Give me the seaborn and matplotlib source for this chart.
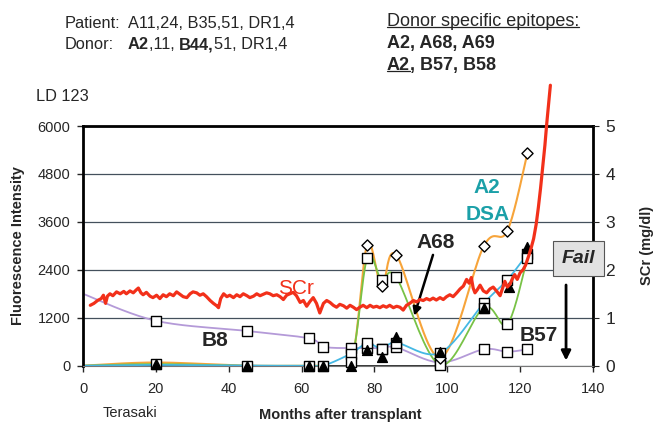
import numpy as np
import matplotlib
matplotlib.use("Agg")
import matplotlib.pyplot as plt
from matplotlib.lines import Line2D
import seaborn as sns

# antibody test months (shared by the bead series)
months = [0, 20, 45, 62, 66, 73.5, 78, 82, 86, 98, 110, 116.5, 122]

b8 = [1800, 1125, 870, 685, 475, 440, 450, 430, 460, 80, 410, 350, 410]
a2 = [0, 20, 0, 0, 0, 300, 560, 420, 575, 320, 1560, 2150, 2800]
a68 = [0, 40, 0, 0, 0, 100, 2685, 2140, 2210, 20, 1450, 1040, 2700]
a69 = [0, 80, 0, 0, 0, 0, 3020, 1990, 2770, 200, 2990, 3380, 5325]

tri_months = [20, 45, 62, 66, 73.5, 78, 82, 86, 98, 110, 117, 122]
tri_vals = [50, 0, 0, 0, 0, 390, 225, 710, 350, 1435, 1975, 2960]

base_months = [0, 20, 45, 62, 66, 73.5, 78, 82, 86, 98]
base_vals = [0, 0, 0, 0, 0, 0, 0, 0, 0, 0]

# serum creatinine (mg/dl)
scr_months = [2, 3, 4, 5, 5.6, 6.2, 6.7, 7.4, 8.2, 9.2, 10.2, 11.2, 11.9, 12.9, 13.8,
              14.6, 15.2, 15.9, 16.5, 17.4, 18.4, 19.2, 20.2, 21.1, 22, 22.9, 23.8,
              24.8, 25.7, 26.6, 27.5, 28.5, 29.4, 30.2, 31.2, 32.1, 33, 33.9, 34.9,
              35.8, 36.7, 37.2, 37.8, 38.6, 39.5, 40.3, 41.3, 42.2, 43.1, 44, 45,
              45.8, 46.8, 47.7, 48.6, 49.5, 50.4, 51.3, 52.2, 53.2, 54.1, 55, 55.9,
              56.8, 57.7, 58.6, 59.6, 60.5, 61.4, 62.3, 63.2, 64.1, 65, 66, 66.9,
              67.8, 68.7, 69.6, 70.5, 71.5, 72.4, 73.3, 74.2, 75.1, 76, 76.9, 77.9,
              78.8, 79.7, 80.6, 81.5, 82.4, 83.3, 84.2, 85.2, 86.1, 87, 87.9, 88.8,
              89.7, 90.7, 91.6, 92.5, 93.4, 94.3, 95.2, 96.1, 97, 98, 98.9, 99.8,
              100.7, 101.6, 102.6, 103.5, 104.4, 105.3, 106, 106.6, 107.1, 107.6,
              108.2, 109, 109.9, 110.8, 111.7, 112.6, 113.5, 114.5, 115.2, 115.8,
              116.5, 117.2, 117.9, 118.5, 119.2, 120, 120.8, 121.5, 122.3, 123,
              123.7, 124.4, 125, 125.6, 126.2, 126.8, 127.3, 127.8, 128.3]
scr_vals = [1.26, 1.30, 1.36, 1.40, 1.47, 1.30, 1.45, 1.50, 1.46, 1.54, 1.50, 1.55, 1.50,
            1.56, 1.52, 1.58, 1.62, 1.52, 1.48, 1.53, 1.45, 1.42, 1.47, 1.40, 1.48,
            1.44, 1.50, 1.46, 1.54, 1.49, 1.44, 1.42, 1.50, 1.54, 1.52, 1.47, 1.50,
            1.44, 1.36, 1.30, 1.25, 1.21, 1.40, 1.50, 1.44, 1.47, 1.42, 1.48, 1.44,
            1.50, 1.46, 1.42, 1.45, 1.50, 1.46, 1.49, 1.52, 1.50, 1.46, 1.48, 1.44,
            1.38, 1.47, 1.50, 1.53, 1.46, 1.32, 1.36, 1.24, 1.34, 1.42, 1.30, 1.10,
            1.30, 1.36, 1.32, 1.26, 1.22, 1.28, 1.25, 1.20, 1.26, 1.22, 1.17, 1.22,
            1.26, 1.21, 1.26, 1.22, 1.24, 1.21, 1.25, 1.22, 1.26, 1.21, 1.24, 1.22,
            1.16, 1.26, 1.30, 1.36, 1.33, 1.38, 1.36, 1.40, 1.37, 1.41, 1.37, 1.42,
            1.38, 1.44, 1.48, 1.44, 1.52, 1.60, 1.66, 1.80, 1.72, 1.84, 1.62, 1.52,
            1.58, 1.68, 1.56, 1.52, 1.60, 1.64, 1.56, 1.46, 1.62, 1.76, 1.64, 1.70,
            1.82, 1.90, 1.80, 1.94, 2.00, 2.10, 2.28, 2.45, 2.65, 2.95, 3.30, 3.70,
            4.15, 4.60, 5.05, 5.45, 5.85]

FONT = "Liberation Sans"


def smooth_path(x, y, steps=20):
    # Catmull-Rom path through the points, like Excel's smoothed lines
    px = np.concatenate([[x[0]], x, [x[-1]]]).astype(float)
    py = np.concatenate([[y[0]], y, [y[-1]]]).astype(float)
    t = np.linspace(0, 1, steps, endpoint=False)
    xs, ys = [], []
    for i in range(1, len(px) - 2):
        for p, out in ((px, xs), (py, ys)):
            p0, p1, p2, p3 = p[i - 1], p[i], p[i + 1], p[i + 2]
            out.extend(0.5 * (2 * p1 + (-p0 + p2) * t
                              + (2 * p0 - 5 * p1 + 4 * p2 - p3) * t ** 2
                              + (-p0 + 3 * p1 - 3 * p2 + p3) * t ** 3))
    xs.append(px[-1])
    ys.append(py[-1])
    return np.array(xs), np.array(ys)


def draw_series(ax, y, color, lw=1.3):
    sx, sy = smooth_path(months, y)
    sns.lineplot(x=sx, y=sy, ax=ax, color=color, lw=lw, sort=False, estimator=None, zorder=2)


def markers(ax, x, y, marker, size, face="white"):
    sns.scatterplot(x=x, y=y, ax=ax, marker=marker, s=size, facecolor=face,
                    edgecolor="black", linewidth=1.0, clip_on=False, zorder=4)


def header(fig, ax):
    kw = dict(fontsize=11.8, family=FONT, va="bottom", ha="left")
    y1, y2 = 1 - 31 / 423, 1 - 52 / 423
    fig.text(65 / 657, y1, "Patient:", **kw)
    fig.text(128 / 657, y1, "A11,24, B35,51, DR1,4", **kw)
    fig.text(65 / 657, y2, "Donor:", **kw)
    prev = fig.text(128 / 657, y2, "A2", fontweight="bold", **kw)
    for s, bold in ((",11, ", False), ("B44,", True), ("51, DR1,4", False)):
        prev = ax.annotate(s, xy=(1, 0), xycoords=prev, fontweight="bold" if bold else "normal",
                           annotation_clip=False, **kw)
    fig.text(36 / 657, 1 - 104 / 423, "LD 123", **kw)

    kw["fontsize"] = 13
    t1 = fig.text(387 / 657, 1 - 30 / 423, "Donor specific epitopes:", **kw)
    fig.text(387 / 657, 1 - 52 / 423, "A2, A68, A69", fontweight="bold", **kw)
    t3 = fig.text(387 / 657, 1 - 74 / 423, "A2", fontweight="bold", **kw)
    ax.annotate(", B57, B58", xy=(1, 0), xycoords=t3, fontweight="bold",
                annotation_clip=False, **kw)

    fig.canvas.draw()
    r = fig.canvas.get_renderer()
    for t in (t1, t3):
        bb = t.get_window_extent(r)
        yy = bb.y0 + 0.15 * bb.height
        fig.add_artist(Line2D([bb.x0 / 657, bb.x1 / 657], [yy / 423, yy / 423],
                              color="#222222", lw=0.9))


def main():
    sns.set_style("white")
    plt.rcParams["font.family"] = [FONT, "DejaVu Sans"]

    fig = plt.figure(figsize=(6.57, 4.23), dpi=100)
    ax = fig.add_axes([83 / 657, 57.3 / 423, 510 / 657, 239.7 / 423])

    sns.lineplot(x=base_months, y=base_vals, ax=ax, color="black", lw=1.8, zorder=1.5)
    draw_series(ax, b8, "#b49ad8")
    draw_series(ax, a69, "#f7a43a", lw=1.5)
    draw_series(ax, a68, "#78c246")
    draw_series(ax, a2, "#45b8e4")

    markers(ax, months[1:], b8[1:], "s", 48)
    markers(ax, months[5:], a2[5:], "s", 48)
    markers(ax, months[1:], a68[1:], "s", 48)
    markers(ax, months[6:], a69[6:], "D", 32)
    markers(ax, tri_months, tri_vals, "^", 50, face="black")

    ax.set_xlim(0, 140)
    ax.set_ylim(0, 6000)
    ax.set_xticks(range(0, 141, 20))
    ax.set_yticks(range(0, 6001, 1200))
    ax.yaxis.grid(True, color="#44505c", lw=0.9)
    ax.set_axisbelow(True)
    for side in ("left", "top", "right"):
        ax.spines[side].set_linewidth(2)
        ax.spines[side].set_color("black")
    ax.spines["bottom"].set_color("#777777")
    ax.tick_params(axis="both", direction="out", length=4, width=1, labelsize=10.5, pad=5,
                   left=True, bottom=True)
    ax.tick_params(axis="x", pad=8)
    ax.set_xlabel("Months after transplant", fontsize=10.5, fontweight="bold")
    ax.xaxis.set_label_coords(0.505, -0.175)
    ax.set_ylabel("Fluorescence Intensity", fontsize=10.5, fontweight="bold")
    ax.yaxis.set_label_coords(-0.114, 0.5)

    ax2 = ax.twinx()
    sns.lineplot(x=scr_months, y=scr_vals, ax=ax2, color="#f2301a", lw=2.3,
                 clip_on=False, estimator=None, sort=False)
    ax2.set_ylim(0, 5)
    ax2.set_yticks(range(0, 6))
    ax2.tick_params(axis="y", direction="out", length=4, labelsize=12.5, pad=5, right=True)
    for s in ax2.spines.values():
        s.set_visible(False)
    ax2.set_ylabel("SCr (mg/dl)", fontsize=10.5, fontweight="bold")
    ax2.yaxis.set_label_coords(1.092, 0.5)

    # annotations
    lab = dict(fontsize=15, fontweight="bold", ha="center", va="center")
    ax.text(58.5, 1940, "SCr", color="#f2301a", fontweight="normal", fontsize=15,
            ha="center", va="center")
    ax.text(36.2, 620, "B8", **lab)
    ax.text(96.9, 3080, "A68", **lab)
    ax.text(125, 755, "B57", **lab)
    ax.text(111, 4455, "A2", color="#1ba0a8", **lab)
    ax.text(111, 3780, "DSA", color="#1ba0a8", **lab)
    ax.annotate("", xy=(90.7, 1185), xytext=(96.3, 2840),
                arrowprops=dict(arrowstyle="-|>", color="black", lw=1.8, mutation_scale=12))
    # Fail box sits on the SCr axis so it covers the right tick, as in the source
    ax2.text(135.9, 2.24, "Fail", fontsize=14, fontweight="bold", style="italic",
             ha="center", va="center", zorder=5,
             bbox=dict(boxstyle="square,pad=0.45", fc="#e2e2e2", ec="#555555", lw=0.8))
    ax.annotate("", xy=(132.6, 60), xytext=(132.6, 2090), annotation_clip=False,
                arrowprops=dict(arrowstyle="-|>", color="black", lw=2, mutation_scale=14))

    fig.text(130 / 657, 1 - 413 / 423, "Terasaki", fontsize=10.5, ha="center", va="center")
    header(fig, ax)

    fig.savefig("out.png", dpi=100)


if __name__ == "__main__":
    main()
